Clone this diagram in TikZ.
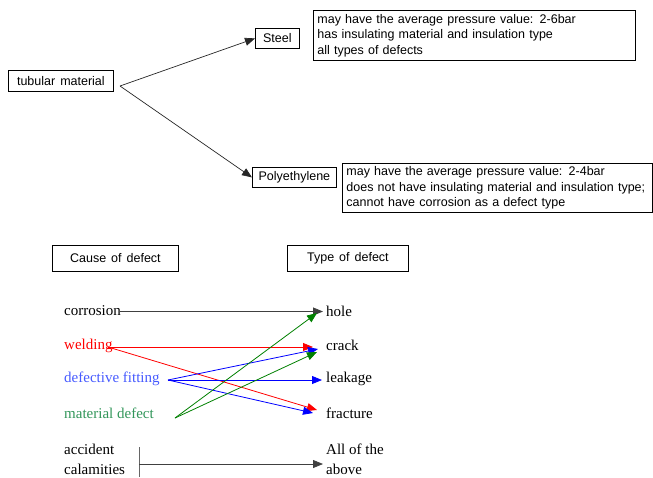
\documentclass[tikz,border=0pt]{standalone}
\usepackage{fontspec}
\setmainfont{Liberation Serif}
\newfontfamily\arialf{Liberation Sans}
\newcommand\myboxfont{\arialf\fontsize{12.5}{15.5}\selectfont\spaceskip=5pt\relax}
\usetikzlibrary{arrows.meta}
\definecolor{wred}{RGB}{255,0,0}
\definecolor{fblue}{RGB}{70,90,255}
\definecolor{mgreen}{RGB}{50,150,90}
\definecolor{lgreen}{RGB}{0,128,0}
\begin{document}
\begin{tikzpicture}[x=1pt,y=-1pt,
  box/.style={draw,line width=0.8pt,inner sep=0pt,anchor=north west,font=\myboxfont},
  info/.style={box,align=left,inner xsep=4pt,anchor=north west},
  lab/.style={anchor=west,inner sep=0pt,font=\fontsize{15}{20}\selectfont},
  arr/.style={-{Triangle[length=10pt,width=8pt]},line width=0.8pt},
  ]
\useasboundingbox (0,0) rectangle (653,477);
% top part
\node[box,minimum width=105pt,minimum height=21pt] (tub) at (8,70) {tubular material};
\node[box,minimum width=44pt,minimum height=20pt] (steel) at (255,28) {Steel};
\node[box,minimum width=84pt,minimum height=20pt] (poly) at (252,167) {Polyethylene};
\node[info,text width=314pt,minimum height=50pt] (sinfo) at (313,10)
  {may have the average pressure value: 2-6bar\\has insulating material and insulation type\\all types of defects};
\node[info,text width=302pt,minimum height=49pt] (pinfo) at (342,163)
  {may have the average pressure value: 2-4bar\\does not have insulating material and insulation type;\\cannot have corrosion as a defect type};
\coordinate (tubout) at (120,86);
\draw[arr,line width=0.7pt,black!85] (tubout) -- (steel.west);
\draw[arr,line width=0.7pt,black!85] (tubout) -- (poly.west);
% bottom part
\node[box,minimum width=126pt,minimum height=26pt] (cause) at (52,245) {Cause of defect};
\node[box,minimum width=121pt,minimum height=26pt] (type) at (287,245) {Type of defect};
\node[lab] (corr) at (64,311) {corrosion};
\node[lab,text=wred] (weld) at (64,346) {welding};
\node[lab,text=fblue] (fit) at (64,379) {defective fitting};
\node[lab,text=mgreen] (mat) at (64,413) {material defect};
\node[lab,align=left] (acc) at (64,459) {accident\\calamities};
\node[lab] (hole) at (326,311) {hole};
\node[lab] (crack) at (326,345) {crack};
\node[lab] (leak) at (326,379) {leakage};
\node[lab] (frac) at (326,413) {fracture};
\node[lab,align=left] (all) at (326,459) {All of the\\above};
% connector points
\coordinate (corrS) at (120,311.5);
\coordinate (holeE) at (323,311.5);
\coordinate (weldS) at (108,347);
\coordinate (fitS) at (168,380);
\coordinate (matS) at (175,418);
\coordinate (crackR) at (313,347);
\coordinate (crackB) at (318,349);
\coordinate (crackG) at (317,352);
\coordinate (holeG) at (317,313);
\coordinate (leakE) at (322,380);
\coordinate (fracR) at (317,410);
\coordinate (fracB) at (313,413);
\coordinate (accT) at (139,447);
\coordinate (accB) at (139,477);
\coordinate (accM) at (139,464);
\coordinate (allE) at (323,464);
\draw[arr,black!75] (corrS) -- (holeE);
\draw[arr,wred] (weldS) -- (crackR);
\draw[arr,wred] (weldS) -- (fracR);
\draw[arr,blue] (fitS) -- (crackB);
\draw[arr,blue] (fitS) -- (leakE);
\draw[arr,blue] (fitS) -- (fracB);
\draw[arr,lgreen] (matS) -- (holeG);
\draw[arr,lgreen] (matS) -- (crackG);
\draw[black!60,line width=0.9pt] (accT) -- (accB);
\draw[arr,black!75] (accM) -- (allE);
\end{tikzpicture}
\end{document}
